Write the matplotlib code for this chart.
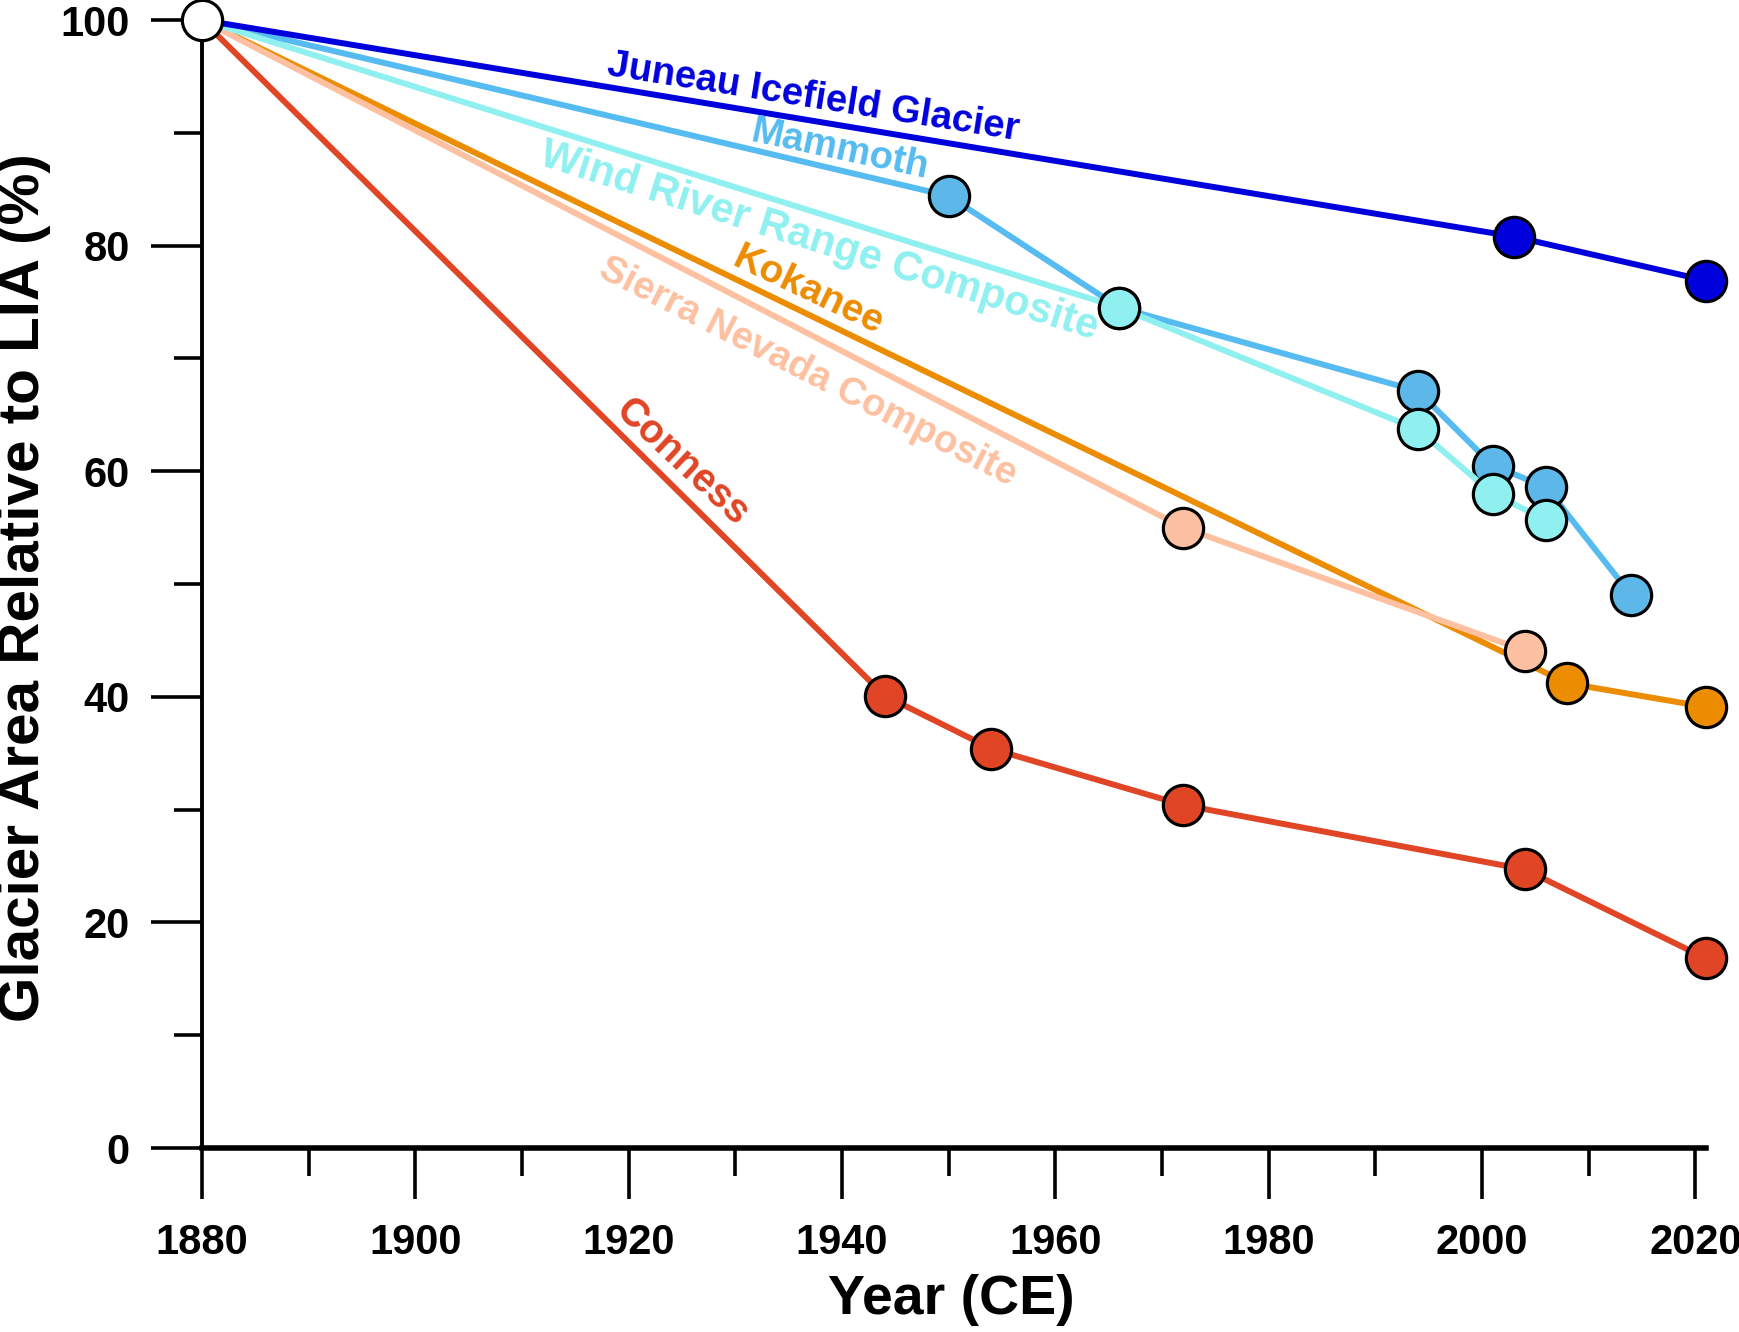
import matplotlib

matplotlib.use("Agg")
import matplotlib.pyplot as plt
from matplotlib.ticker import MultipleLocator

# glacier area relative to the Little Ice Age maximum (%)
juneau_year = [1880, 2003, 2021]
juneau_area = [100, 80.8, 76.9]

mammoth_year = [1880, 1950, 1966, 1994, 2001, 2006, 2014]
mammoth_area = [100, 84.4, 74.5, 67.1, 60.5, 58.6, 49.0]

wind_year = [1880, 1966, 1994, 2001, 2006]
wind_area = [100, 74.5, 63.7, 58.0, 55.7]

kokanee_year = [1880, 2008, 2021]
kokanee_area = [100, 41.2, 39.1]

sierra_year = [1880, 1972, 2004]
sierra_area = [100, 55.0, 44.1]

conness_year = [1880, 1944, 1954, 1972, 2004, 2021]
conness_area = [100, 40.1, 35.4, 30.4, 24.7, 16.8]

FONT = "Liberation Sans"

plt.rcParams.update({"font.family": FONT, "font.weight": "bold"})

fig = plt.figure(figsize=(17.39, 13.32), dpi=100)
ax = fig.add_axes([202 / 1739, 184 / 1332, (1706 - 202) / 1739, (1312 - 184) / 1332])

series = [
    # year, area, line colour, marker colour, label, label x, label y, rotation, size
    (conness_year, conness_area, "#e04525", "#e04525", "Conness", 1925.0, 60.8, -43, 28.5),
    (kokanee_year, kokanee_area, "#ec8c00", "#ec8c00", "Kokanee", 1936.8, 76.0, -25.5, 28),
    (sierra_year, sierra_area, "#fdc0a0", "#fdc0a0", "Sierra Nevada Composite", 1936.8, 68.8, -27, 27.5),
    (mammoth_year, mammoth_area, "#55bbf0", "#5db7e8", "Mammoth", 1939.8, 88.5, -12, 27.5),
    (wind_year, wind_area, "#90f0f0", "#90f0f0", "Wind River Range Composite", 1937.8, 80.4, -17.5, 30),
    (juneau_year, juneau_area, "#0000dd", "#0000dd", "Juneau Icefield Glacier", 1937.3, 93.1, -9, 27.5),
]

for z, (yr, ar, lc, mc, name, tx, ty, rot, fs) in enumerate(series):
    ax.plot(yr, ar, color=lc, linewidth=4.3, zorder=2 + z, clip_on=False,
            solid_capstyle="round")
    ax.plot(yr[1:], ar[1:], "o", markersize=29, markerfacecolor=mc,
            markeredgecolor="black", markeredgewidth=2.3, zorder=2 + z, clip_on=False)
    ax.text(tx, ty, name, color=lc, fontsize=fs, fontweight="bold", rotation=rot,
            rotation_mode="anchor", ha="center", va="center", zorder=20)

# common starting point (LIA maximum)
ax.plot([juneau_year[0]], [juneau_area[0]], "o", markersize=29, markerfacecolor="white",
        markeredgecolor="black", markeredgewidth=2.3, zorder=30, clip_on=False)

ax.set_xlim(1880, 2021)
ax.set_ylim(0, 100)

for side in ("top", "right"):
    ax.spines[side].set_visible(False)
ax.spines["left"].set_linewidth(2.8)
ax.spines["bottom"].set_linewidth(4.0)

ax.xaxis.set_major_locator(MultipleLocator(20))
ax.xaxis.set_minor_locator(MultipleLocator(10))
ax.yaxis.set_major_locator(MultipleLocator(20))
ax.yaxis.set_minor_locator(MultipleLocator(10))

ax.tick_params(axis="both", which="major", direction="out", length=37, width=2.6,
               labelsize=30, color="black")
ax.tick_params(axis="both", which="minor", direction="out", length=20, width=2.6)
ax.tick_params(axis="x", which="major", pad=17)
ax.tick_params(axis="y", which="major", pad=15)
for lab in ax.get_xticklabels() + ax.get_yticklabels():
    lab.set_fontweight("bold")

fig.text(24 / 1739, 1 - 588 / 1332, "Glacier Area Relative to LIA (%)", rotation=90,
         ha="center", va="center", fontsize=42, fontweight="bold")
fig.text(951 / 1739, 1 - 1300 / 1332, "Year (CE)", ha="center", va="center",
         fontsize=40, fontweight="bold")

fig.savefig("out.png", dpi=100, facecolor="white")
